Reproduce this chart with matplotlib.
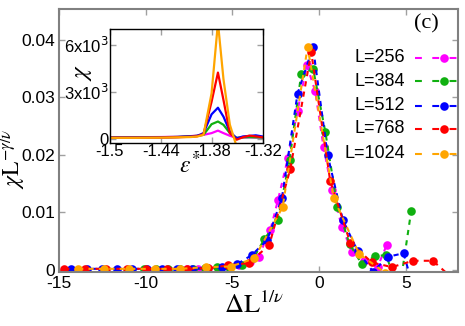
import matplotlib
matplotlib.use("Agg")
import matplotlib.pyplot as plt
from matplotlib.lines import Line2D

plt.rcParams['font.family'] = ['Liberation Sans', 'DejaVu Sans']

# ---------------- data ----------------
sizes = [256, 384, 512, 768, 1024]
colors = ['#ff00ff', '#10b010', '#0000ff', '#ff0000', '#ffa500']

x256 = [-7.6, -7.0, -6.4, -5.8, -5.2, -4.6, -4.0, -3.5, -2.82, -2.38, -1.8, -1.25, -0.71, -0.23, 0.25, 0.73, 1.31, 1.88, 2.6, 3.36, 3.9]
y256 = [0.0002, 0.0002, 0.0003, 0.0004, 0.0005, 0.0008, 0.0014, 0.0023, 0.0069, 0.0121, 0.0195, 0.0276, 0.0355, 0.031, 0.0213, 0.0139, 0.0075, 0.0032, 0.0015, 0.0005, 0.0044]

x384 = [-10.1, -9.4, -8.7, -8.0, -7.3, -6.6, -5.9, -5.2, -4.45, -3.8, -3.17, -2.38, -1.71, -1.04, -0.35, 0.35, 1.05, 1.75, 2.46, 3.23, 3.86, 4.6, 5.3]
y384 = [0.0002, 0.0002, 0.0002, 0.0002, 0.0002, 0.0003, 0.0005, 0.0006, 0.0009, 0.002, 0.0053, 0.0087, 0.0191, 0.034, 0.0349, 0.024, 0.0109, 0.0045, 0.001, 0.0024, 0.0026, -0.004, 0.0102]

x512 = [-14.28, -13.4, -12.54, -11.67, -10.8, -9.94, -9.07, -8.2, -7.34, -6.47, -5.6, -4.74, -3.88, -3.0, -2.15, -1.25, -0.36, 0.48, 1.37, 2.21, 3.1, 3.96, 4.86, 5.7]
y512 = [0.0002, 0.0002, 0.0002, 0.0002, 0.0002, 0.0002, 0.0002, 0.0002, 0.0002, 0.0003, 0.0005, 0.001, 0.0026, 0.0052, 0.0125, 0.0306, 0.0387, 0.020, 0.0086, 0.0033, -0.0003, 0.0023, 0.0029, -0.006]

x768 = [-14.7, -13.5, -12.3, -11.1, -10.0, -8.8, -7.6, -6.4, -5.25, -4.07, -2.88, -1.67, -0.46, 0.63, 1.79, 3.04, 4.19, 5.4, 6.55, 7.7]
y768 = [0.0002, 0.0002, 0.0002, 0.0002, 0.0002, 0.0002, 0.0002, 0.0003, 0.0008, 0.0012, 0.0043, 0.0175, 0.0378, 0.0155, 0.0047, 0.0013, 0.0005, 0.0016, 0.0016, -0.0015]

x1024 = [-13.9, -12.4, -10.95, -9.45, -8.0, -6.55, -5.1, -3.75, -2.11, -0.67, 0.83, 2.3, 3.8]
y1024 = [0.0002, 0.0002, 0.0002, 0.0002, 0.0002, 0.0005, 0.0006, 0.002, 0.0109, 0.0387, 0.0125, 0.0028, -0.0005]

xs = [x256, x384, x512, x768, x1024]
ys = [y256, y384, y512, y768, y1024]

# inset data
eps = [-1.5, -1.47, -1.44, -1.42, -1.405, -1.3975, -1.39, -1.3805, -1.373, -1.3665, -1.359, -1.351, -1.3435, -1.336, -1.3285, -1.321]
chi256 = [100, 100, 110, 130, 170, 200, 250, 360, 520, 360, 190, 60, 80, 90, 80, 70]
chi384 = [90, 90, 100, 120, 160, 190, 250, 930, 1100, 890, 360, 60, 90, 100, 90, 80]
chi512 = [80, 80, 90, 110, 150, 180, 360, 1560, 1980, 1410, 460, 20, 150, 180, 220, 150]
chi768 = [70, 70, 80, 100, 130, 160, 300, 2360, 4220, 2470, 360, -60, 100, 200, 150, 100]
chi1024 = [60, 60, 70, 90, 110, 140, 250, 2900, 7400, 3800, 900, -500, -500, -500, -500, -400]
chis = [chi256, chi384, chi512, chi768, chi1024]

xticks_main = [-15, -10, -5, 0, 5]
yticks_main = [0, 0.01, 0.02, 0.03, 0.04]
ytick_labels_main = ['0', '0.01', '0.02', '0.03', '0.04']
xticks_in = [-1.5, -1.44, -1.38, -1.32]
xtick_labels_in = ['-1.5', '-1.44', '-1.38', '-1.32']
yticks_in = [0, 3000, 6000]
ytick_labels_in = ['0', '3x10$^3$', '6x10$^3$']

# ---------------- figure ----------------
W, H = 465, 326
fig = plt.figure(figsize=(W / 100, H / 100), dpi=100)
ax = fig.add_axes([59 / W, 1 - 272 / H, (458 - 59) / W, (272 - 9) / H])

for x, y, c in zip(xs, ys, colors):
    ax.plot(x, y, color=c, lw=1.5, dashes=(2.5, 2.5), marker='o', ms=6.2,
            markeredgewidth=0, clip_on=True)

ax.set_xlim(-15, 8)
ax.set_ylim(-0.00035, 0.0453)
ax.set_xticks(xticks_main)
ax.set_xticklabels([str(t) for t in xticks_main])
ax.set_yticks(yticks_main)
ax.set_yticklabels(ytick_labels_main)
ax.tick_params(direction='in', length=4, width=1, color='#a0a0a0',
               top=True, right=True, labelsize=12.5, pad=3)
for s in ax.spines.values():
    s.set_color('#808080')
    s.set_linewidth(1.5)

ax.set_ylabel(r'$\chi\mathrm{L}^{-\gamma/\nu}$', fontsize=17, math_fontfamily='stix')
ax.yaxis.set_label_coords((28 - 59) / (458 - 59), 0.43)
ax.set_xlabel(r'$\Delta\mathrm{L}^{1/\nu}$', fontsize=19, math_fontfamily='stix')
ax.xaxis.set_label_coords(0.49, (272 - 292) / (272 - 9))
ax.text(426 / W, 1 - 24 / H, '(c)', transform=fig.transFigure, ha='center', va='center',
        fontsize=16, family=['Liberation Serif', 'DejaVu Serif'])

# legend drawn manually (gnuplot style: text right, sample after)
row_y = [58, 81, 106, 129, 154]
for L, c, ry in zip(sizes, colors, row_y):
    fy = 1 - ry / H
    fig.text(405 / W, fy, f'L={L}', ha='right', va='center', fontsize=13)
    fig.add_artist(Line2D([415 / W, 475 / W], [fy, fy], transform=fig.transFigure,
                          color=c, lw=1.5, dashes=(3.3, 5)))
    fig.add_artist(Line2D([444 / W], [fy], transform=fig.transFigure, color=c,
                          marker='o', ms=6.2, markeredgewidth=0, lw=0))

# ---------------- inset ----------------
axi = fig.add_axes([110 / W, 1 - 143 / H, (263 - 110) / W, (143 - 29) / H])
for e, ch, c in zip([eps] * 5, chis, colors):
    axi.plot(e, ch, color=c, lw=1.6)
axi.set_xlim(-1.5, -1.32)
axi.set_ylim(-270, 7000)
axi.set_xticks(xticks_in)
axi.set_xticklabels(xtick_labels_in)
axi.set_yticks(yticks_in)
axi.set_yticklabels(ytick_labels_in)
axi.tick_params(direction='in', length=4, width=1, color='#a0a0a0',
                top=True, right=True, labelsize=12, pad=1)
for s in axi.spines.values():
    s.set_color('black')
    s.set_linewidth(1.0)
axi.text(-0.18, 0.62, r'$\chi$', transform=axi.transAxes, rotation=90,
         ha='center', va='center', fontsize=18, math_fontfamily='stix')
axi.text(0.523, -0.2, r'$\varepsilon^{*}$', transform=axi.transAxes,
         ha='center', va='center', fontsize=17, math_fontfamily='stix')

fig.savefig('out.png', dpi=100)
